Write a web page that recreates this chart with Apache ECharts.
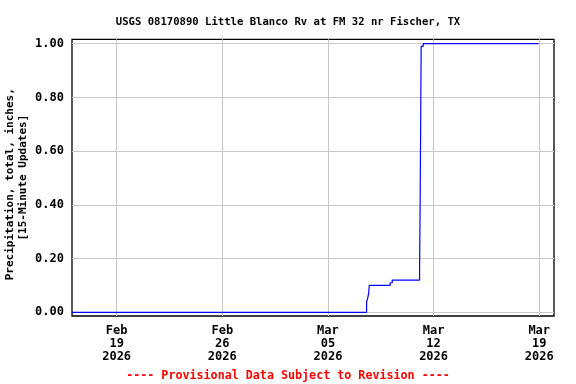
<!DOCTYPE html>
<html>
<head>
<meta charset="utf-8">
<script src="https://cdn.jsdelivr.net/npm/echarts@6/dist/echarts.min.js"></script>
<style>html,body{margin:0;padding:0;background:#fff}#c{width:576px;height:384px}</style>
</head>
<body>
<div id="c"></div>
<script>
// Data (cumulative precipitation, inches)
var times = ['2026-02-16 01:00', '2026-03-07 13:30', '2026-03-07 15:00', '2026-03-07 16:45',
  '2026-03-07 17:45', '2026-03-09 03:00', '2026-03-09 06:15', '2026-03-11 01:45',
  '2026-03-11 02:45', '2026-03-11 04:15', '2026-03-11 07:30', '2026-03-18 23:00'];
var values = [0.00, 0.04, 0.05, 0.07, 0.10, 0.11, 0.12, 0.16, 0.44, 0.99, 1.00, 1.00];
var xTicks = ['2026-02-19', '2026-02-26', '2026-03-05', '2026-03-12', '2026-03-19'];
var yTicks = [0, 0.2, 0.4, 0.6, 0.8, 1.0];
var xRange = ['2026-02-16 01:00', '2026-03-19 23:30'];
var yRange = [-0.0138, 1.0164];
var titleText = 'USGS 08170890 Little Blanco Rv at FM 32 nr Fischer, TX';
var footerText = '---- Provisional Data Subject to Revision ----';
var yName = 'Precipitation, total, inches,  \n[15-Minute Updates]';
var monthNames = ['Jan','Feb','Mar','Apr','May','Jun','Jul','Aug','Sep','Oct','Nov','Dec'];

function parseT(s) {
  var p = s.split(/[- :]/).map(Number);
  return new Date(p[0], p[1] - 1, p[2], p[3] || 0, p[4] || 0).getTime();
}
var seriesData = times.map(function (t, i) { return [parseT(t), values[i]]; });
var font = 'DejaVu Sans Mono';

var chart = echarts.init(document.getElementById('c'), null, { renderer: 'canvas' });
chart.setOption({
  animation: false,
  backgroundColor: '#ffffff',
  title: [
    { text: titleText, left: 'center', top: 12,
      textStyle: { fontFamily: font, fontWeight: 'bold', fontSize: 10.6, color: '#000' } },
    { text: footerText, left: 'center', top: 365,
      textStyle: { fontFamily: font, fontWeight: 'bold', fontSize: 11.7, color: '#ff0000' } }
  ],
  grid: { left: 72, top: 39.3, right: 22, bottom: 68, show: true, containLabel: false,
    outerBoundsMode: 'none',
    borderColor: '#000', borderWidth: 1.3, backgroundColor: 'transparent' },
  xAxis: {
    type: 'value',
    min: parseT(xRange[0]), max: parseT(xRange[1]),
    axisLine: { show: false },
    axisTick: { show: false, customValues: xTicks.map(parseT) },
    splitLine: { show: true, lineStyle: { color: '#c8c8c8', width: 1 } },
    axisLabel: {
      customValues: xTicks.map(parseT),
      fontFamily: font, fontWeight: 'bold', fontSize: 12, color: '#000',
      lineHeight: 13, margin: 8, hideOverlap: false,
      formatter: function (v) {
        var d = new Date(v);
        var dd = d.getDate();
        return monthNames[d.getMonth()] + '\n' + (dd < 10 ? '0' + dd : dd) + '\n' + d.getFullYear();
      }
    }
  },
  yAxis: {
    type: 'value',
    min: yRange[0], max: yRange[1],
    name: yName, nameLocation: 'middle', nameGap: 43, nameRotate: 90, nameMoveOverlap: false,
    nameTextStyle: { fontFamily: font, fontWeight: 'bold', fontSize: 11, color: '#000', lineHeight: 12.5, align: 'center' },
    axisLine: { show: false },
    axisTick: { show: false, customValues: yTicks },
    splitLine: { show: true, lineStyle: { color: '#c8c8c8', width: 1 } },
    axisLabel: {
      customValues: yTicks,
      fontFamily: font, fontWeight: 'bold', fontSize: 12, color: '#000', margin: 8,
      formatter: function (v) { return v.toFixed(2); }
    }
  },
  series: [{
    type: 'line', step: 'end', data: seriesData, showSymbol: false,
    lineStyle: { color: '#0000ff', width: 1.2 }, z: 3
  }]
});
</script>
</body>
</html>
